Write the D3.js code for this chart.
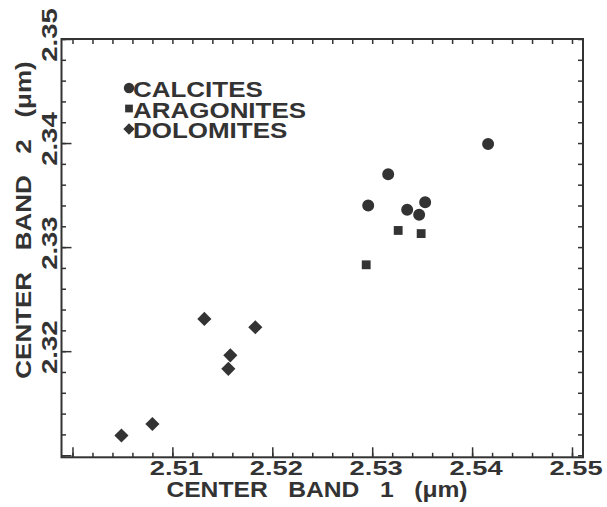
<!DOCTYPE html>
<html>
<head>
<meta charset="utf-8">
<script src="https://cdn.jsdelivr.net/npm/d3@7"></script>
<style>
  body { margin: 0; background: #fff; }
  text { font-family: "Liberation Sans", Arial, Helvetica, sans-serif; fill: #333; white-space: pre; }
</style>
</head>
<body>
<script>
// ---- data ----
const calcitesX = [2.5416, 2.5316, 2.5296, 2.5335, 2.5353, 2.5347];
const calcitesY = [2.3399, 2.3370, 2.3340, 2.3336, 2.3343, 2.3331];

const aragonitesX = [2.5326, 2.5349, 2.5294];
const aragonitesY = [2.3316, 2.3313, 2.3283];

const dolomitesX = [2.5132, 2.5183, 2.5158, 2.5156, 2.5080, 2.5049];
const dolomitesY = [2.3231, 2.3223, 2.3196, 2.3183, 2.3130, 2.3119];

const legendNames = ["CALCITES", "ARAGONITES", "DOLOMITES"];
const xTickLabels = [2.51, 2.52, 2.53, 2.54, 2.55];
const yTickLabels = [2.32, 2.33, 2.34, 2.35];

const xTitle = "CENTER   BAND   1   (\u03bcm)";
const yTitle = "CENTER   BAND   2   (\u03bcm)";

// ---- layout ----
const W = 607, H = 507;
const frame = {left: 61.5, right: 583, top: 39, bottom: 457.3};
const ink = "#333";

const svg = d3.select("body").append("svg")
    .attr("width", W)
    .attr("height", H);

const x = d3.scaleLinear().domain([2.4989, 2.5511]).range([frame.left, frame.right]);
const y = d3.scaleLinear().domain([2.3098, 2.35]).range([frame.bottom, frame.top]);

// stretch text along its run (the scanned figure has wide lettering)
function stretch(sel, k) {
    sel.each(function() {
        const w = this.getComputedTextLength();
        d3.select(this).attr("textLength", w * k).attr("lengthAdjust", "spacingAndGlyphs");
    });
}

// minor ticks every 0.002, majors every 0.01
const xMinor = d3.range(2.500, 2.5505, 0.002);
const yMinor = d3.range(2.310, 2.3505, 0.002);
const xMajor = [2.50].concat(xTickLabels);
const yMajor = [2.31].concat(yTickLabels);

function axisGroup(axis, tx, ty) {
    const g = svg.append("g").attr("transform", `translate(${tx},${ty})`).call(axis);
    g.select(".domain").remove();
    g.selectAll("text").remove();
    g.selectAll("line").attr("stroke", ink).attr("stroke-width", 1.5);
    return g;
}

// bottom & left: minor + long major ticks
axisGroup(d3.axisBottom(x).tickValues(xMinor).tickSize(-4.5), 0, frame.bottom);
axisGroup(d3.axisBottom(x).tickValues(xMajor).tickSize(-10), 0, frame.bottom);
axisGroup(d3.axisLeft(y).tickValues(yMinor).tickSize(-4.5), frame.left, 0);
axisGroup(d3.axisLeft(y).tickValues(yMajor).tickSize(-10), frame.left, 0);
// top & right: short ticks only
axisGroup(d3.axisTop(x).tickValues(xMinor).tickSize(-5), 0, frame.top);
axisGroup(d3.axisRight(y).tickValues(yMinor).tickSize(-5), frame.right, 0);

// frame
svg.append("rect")
    .attr("x", frame.left).attr("y", frame.top)
    .attr("width", frame.right - frame.left)
    .attr("height", frame.bottom - frame.top)
    .attr("fill", "none")
    .attr("stroke", ink)
    .attr("stroke-width", 2);

// tick labels
svg.append("g").selectAll("text")
    .data(xTickLabels)
    .join("text")
    .attr("x", d => x(d) + 4)
    .attr("y", 475)
    .attr("text-anchor", "middle")
    .attr("font-size", 21)
    .attr("font-weight", "bold")
    .text(d => d3.format(".2f")(d))
    .call(stretch, 1.3);

svg.append("g").selectAll("text")
    .data(yTickLabels)
    .join("text")
    .attr("transform", d => `translate(57,${y(d) - 4}) rotate(-90)`)
    .attr("text-anchor", "middle")
    .attr("font-size", 22)
    .attr("font-weight", "bold")
    .text(d => d3.format(".2f")(d))
    .call(stretch, 1.25);

// axis titles
svg.append("text")
    .attr("x", 317)
    .attr("y", 497)
    .attr("text-anchor", "middle")
    .attr("font-size", 22)
    .attr("font-weight", "bold")
    .text(xTitle)
    .call(stretch, 1.12);

svg.append("text")
    .attr("transform", "translate(31,220) rotate(-90)")
    .attr("text-anchor", "middle")
    .attr("font-size", 22)
    .attr("font-weight", "bold")
    .text(yTitle)
    .call(stretch, 1.18);

// markers: circle, square, square turned 45deg for the diamond
const symbols = [d3.symbolCircle, d3.symbolSquare, d3.symbolSquare];
const rotations = [0, 0, 45];
const symbolSizes = [113, 78, 100];
const groups = [
    d3.zip(calcitesX, calcitesY),
    d3.zip(aragonitesX, aragonitesY),
    d3.zip(dolomitesX, dolomitesY)
];

groups.forEach((pts, i) => {
    svg.append("g").selectAll("path")
        .data(pts)
        .join("path")
        .attr("transform", d => `translate(${x(d[0])},${y(d[1])}) rotate(${rotations[i]})`)
        .attr("d", d3.symbol().type(symbols[i]).size(symbolSizes[i]))
        .attr("fill", ink);
});

// legend
const legend = svg.append("g").attr("transform", "translate(129,88)");
const legendSizes = [85, 60, 64];
legendNames.forEach((name, i) => {
    const row = legend.append("g").attr("transform", `translate(0,${i * 20.5})`);
    row.append("path")
        .attr("transform", `rotate(${rotations[i]})`)
        .attr("d", d3.symbol().type(symbols[i]).size(legendSizes[i]))
        .attr("fill", ink);
    row.append("text")
        .attr("x", 4)
        .attr("y", 9)
        .attr("font-size", 22)
        .attr("font-weight", "bold")
        .text(name)
        .call(stretch, 1.18);
});
</script>
</body>
</html>
